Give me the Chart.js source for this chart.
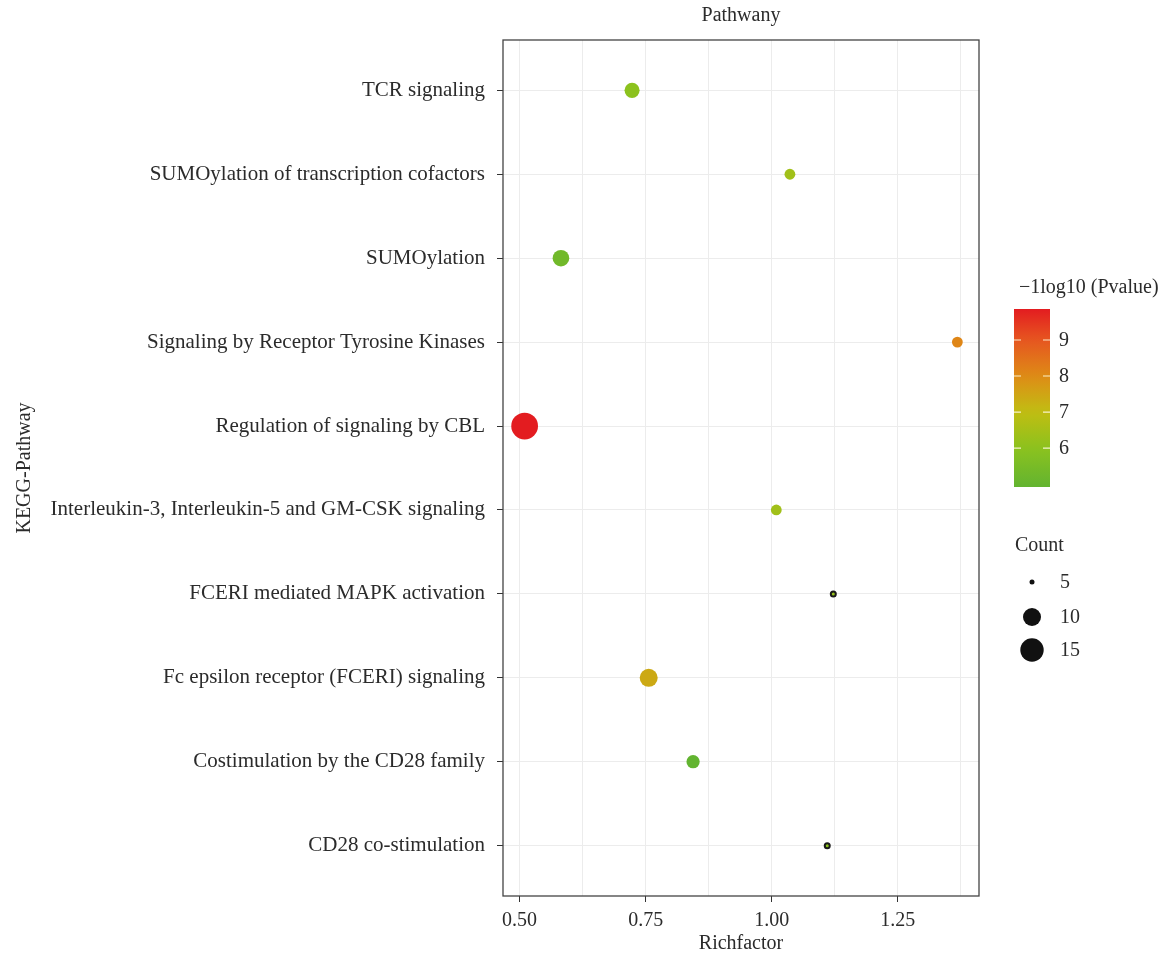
<!DOCTYPE html>
<html>
<head>
<meta charset="utf-8">
<script src="https://cdn.jsdelivr.net/npm/chart.js@4.4.1/dist/chart.umd.min.js"></script>
<style>
  html, body { margin: 0; padding: 0; background: #fff; }
</style>
</head>
<body>
<canvas id="myChart" width="1167" height="957"></canvas>
<script>
// Data (urut dari atas ke bawah)
const pathways = [
  'TCR signaling',
  'SUMOylation of transcription cofactors',
  'SUMOylation',
  'Signaling by Receptor Tyrosine Kinases',
  'Regulation of signaling by CBL',
  'Interleukin-3, Interleukin-5 and GM-CSK signaling',
  'FCERI mediated MAPK activation',
  'Fc epsilon receptor (FCERI) signaling',
  'Costimulation by the CD28 family',
  'CD28 co-stimulation'
];
const richFactor = [0.723, 1.036, 0.582, 1.368, 0.510, 1.009, 1.122, 0.756, 0.844, 1.110];
const logP = [6.0, 6.4, 5.3, 8.1, 9.86, 6.4, 6.2, 7.4, 4.92, 6.0];   // -log10(Pvalue)
const counts = [8, 6, 9, 6, 19, 6, 5, 10, 7, 5];
const xTicks = [0.5, 0.75, 1.0, 1.25];
const xMinorTicks = [0.625, 0.875, 1.125, 1.375];
const colorTicks = [6, 7, 8, 9];
const countTicks = [5, 10, 15];

const FONT = '"Liberation Serif", "DejaVu Serif", serif';
const TEXT = '#2b2b2b';

// skala warna hijau -> kuning -> merah
const cMin = Math.min(...logP);
const cMax = Math.max(...logP);
const stops = [
  [0.00, [98, 180, 48]],
  [0.22, [140, 194, 30]],
  [0.42, [192, 190, 18]],
  [0.62, [222, 140, 22]],
  [0.83, [230, 85, 32]],
  [1.00, [227, 28, 32]]
];
function colorFor(v) {
  let t = (v - cMin) / (cMax - cMin);
  t = Math.max(0, Math.min(1, t));
  for (let i = 1; i < stops.length; i++) {
    if (t <= stops[i][0]) {
      const [t0, a] = stops[i - 1];
      const [t1, b] = stops[i];
      const k = (t - t0) / (t1 - t0);
      const c = a.map((x, j) => Math.round(x + (b[j] - x) * k));
      return `rgb(${c[0]},${c[1]},${c[2]})`;
    }
  }
  return 'rgb(227,28,32)';
}

// ukuran titik (luas ~ count)
const sMin = 5, sSpan = 10;
function sizeFor(c) {
  return 2.5 + 9.2 * Math.sqrt(Math.max(0, c - sMin) / sSpan);
}

const n = pathways.length;

const extras = {
  id: 'extras',
  afterDraw(chart) {
    const { ctx, chartArea: a } = chart;
    ctx.save();
    // kotak panel
    ctx.strokeStyle = '#444';
    ctx.lineWidth = 1.3;
    ctx.strokeRect(a.left, a.top, a.right - a.left, a.bottom - a.top);

    ctx.fillStyle = TEXT;
    ctx.font = '20px ' + FONT;
    ctx.textBaseline = 'middle';
    ctx.textAlign = 'center';
    ctx.fillText('Pathwany', (a.left + a.right) / 2, 16);

    // legenda warna
    const bx = 1014, bw = 36, bTop = 309, bBot = 487;
    ctx.textAlign = 'left';
    ctx.fillText('\u22121log10 (Pvalue)', 1019, 288);
    const g = ctx.createLinearGradient(0, bBot, 0, bTop);
    for (let i = 0; i <= 20; i++) {
      g.addColorStop(i / 20, colorFor(cMin + (cMax - cMin) * i / 20));
    }
    ctx.fillStyle = g;
    ctx.fillRect(bx, bTop, bw, bBot - bTop);
    colorTicks.forEach(v => {
      const y = bBot - (v - cMin) / (cMax - cMin) * (bBot - bTop);
      ctx.strokeStyle = 'rgba(255,250,220,0.9)';
      ctx.lineWidth = 1.2;
      ctx.beginPath();
      ctx.moveTo(bx, y); ctx.lineTo(bx + 7, y);
      ctx.moveTo(bx + bw - 7, y); ctx.lineTo(bx + bw, y);
      ctx.stroke();
      ctx.fillStyle = TEXT;
      ctx.fillText(String(v), 1059, y + 1);
    });

    // legenda jumlah
    ctx.fillStyle = TEXT;
    ctx.fillText('Count', 1015, 546);
    const ys = [582, 617, 650];
    countTicks.forEach((c, i) => {
      ctx.fillStyle = '#111';
      ctx.beginPath();
      ctx.arc(1032, ys[i], sizeFor(c), 0, Math.PI * 2);
      ctx.fill();
      ctx.fillStyle = TEXT;
      ctx.fillText(String(c), 1060, ys[i] + 1);
    });
    ctx.restore();
  }
};

const ctx = document.getElementById('myChart').getContext('2d');
const myChart = new Chart(ctx, {
  type: 'scatter',
  data: {
    datasets: [{
      data: pathways.map((p, i) => ({ x: richFactor[i], y: n - i })),
      backgroundColor: logP.map(colorFor),
      pointRadius: counts.map(sizeFor),
      pointHoverRadius: counts.map(sizeFor),
      pointBorderWidth: counts.map(c => c <= 5 ? 2 : 0),
      pointBorderColor: '#1a1a1a'
    }]
  },
  options: {
    responsive: false,
    animation: false,
    layout: { padding: { top: 40, right: 188, left: 0, bottom: 0 } },
    plugins: { legend: { display: false }, tooltip: { enabled: false } },
    scales: {
      x: {
        type: 'linear',
        min: 0.4671,
        max: 1.4109,
        afterBuildTicks: axis => {
          axis.ticks = [...xTicks, ...xMinorTicks].sort((p, q) => p - q).map(v => ({ value: v }));
        },
        afterFit: s => { s.height = 61; },
        ticks: {
          autoSkip: false,
          maxRotation: 0,
          padding: 7,
          color: TEXT,
          font: { family: FONT, size: 20 },
          callback: v => xTicks.includes(v) ? v.toFixed(2) : ''
        },
        grid: {
          color: '#ececec',
          lineWidth: 1,
          tickLength: 6,
          tickColor: c => (c.tick && xTicks.includes(c.tick.value)) ? '#333' : 'rgba(0,0,0,0)'
        },
        border: { display: false },
        title: {
          display: true,
          text: 'Richfactor',
          color: TEXT,
          font: { family: FONT, size: 20 },
          padding: { top: 0, bottom: 1 }
        }
      },
      y: {
        type: 'linear',
        min: 0.4,
        max: 10.6,
        afterBuildTicks: axis => {
          axis.ticks = pathways.map((p, i) => ({ value: n - i }));
        },
        afterFit: s => { s.width = 503; },
        ticks: {
          autoSkip: false,
          padding: 12,
          color: TEXT,
          font: { family: FONT, size: 21 },
          callback: v => pathways[n - v]
        },
        grid: { color: '#ececec', lineWidth: 1, tickLength: 6, tickColor: '#333' },
        border: { display: false },
        title: {
          display: true,
          text: 'KEGG-Pathway',
          color: TEXT,
          font: { family: FONT, size: 20 },
          padding: { top: 13, bottom: 0 }
        }
      }
    }
  },
  plugins: [extras]
});
</script>
</body>
</html>
